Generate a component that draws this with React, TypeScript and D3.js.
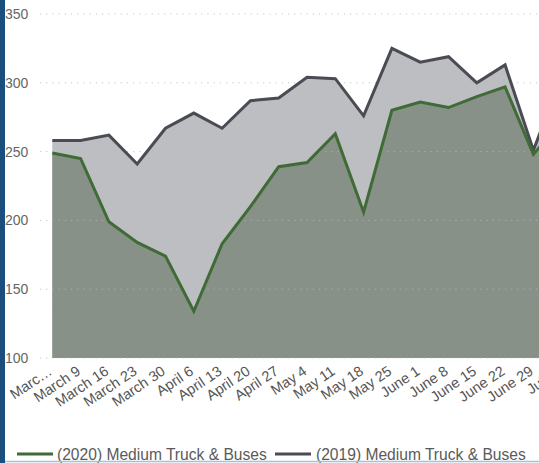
import React from "react";
import * as d3 from "d3";

const categories = [
  "March 2", "March 9", "March 16", "March 23", "March 30",
  "April 6", "April 13", "April 20", "April 27",
  "May 4", "May 11", "May 18", "May 25",
  "June 1", "June 8", "June 15", "June 22", "June 29", "July 6",
];
const tickLabels = [
  "Marc…", "March 9", "March 16", "March 23", "March 30",
  "April 6", "April 13", "April 20", "April 27",
  "May 4", "May 11", "May 18", "May 25",
  "June 1", "June 8", "June 15", "June 22", "June 29", "July 6",
];
const values2020 = [249, 245, 199, 184, 174, 134, 183, 210, 239, 242, 263, 206, 280, 286, 282, 290, 297, 248, 272];
const values2019 = [258, 258, 262, 241, 267, 278, 267, 287, 289, 304, 303, 276, 325, 315, 319, 300, 313, 251, 305];
const yTicks = [100, 150, 200, 250, 300, 350];
const seriesNames = ["(2020) Medium Truck & Buses", "(2019) Medium Truck & Buses"];

const W = 539;
const H = 463;
const FONT = "'Liberation Sans', Arial, sans-serif";

export default function App() {
  const x = d3.scalePoint<string>().domain(categories).range([52.3, 52.3 + 18 * 28.3]);
  const y = d3.scaleLinear().domain([100, 350]).range([358, 14]);

  const area = (vals: number[]) =>
    d3.area<number>()
      .x((_, i) => x(categories[i]) as number)
      .y0(y(100))
      .y1((d) => y(d))(vals) as string;
  const line = (vals: number[]) =>
    d3.line<number>()
      .x((_, i) => x(categories[i]) as number)
      .y((d) => y(d))(vals) as string;

  const green = "#3e6b36";
  const dark = "#4a4b53";

  return (
    <div style={{ position: "absolute", left: 0, top: 0, width: W, height: H, overflow: "hidden", background: "#fff" }}>
      <svg width={W} height={H} style={{ display: "block", fontFamily: FONT }}>
        <path d={area(values2019)} fill="#bdbec1" />
        <path d={area(values2020)} fill="#879188" />
        {yTicks.map((t) => (
          <g key={t}>
            <line x1={40} x2={W} y1={y(t)} y2={y(t)} stroke="#b8b8b8" strokeOpacity={0.8} strokeWidth={1} strokeDasharray="1.2,5" />
            <text x={5} y={y(t)} dy="0.36em" fontSize={14} fill="#666">{t}</text>
          </g>
        ))}
        <path d={line(values2019)} fill="none" stroke={dark} strokeWidth={3} strokeLinejoin="miter" />
        <path d={line(values2020)} fill="none" stroke={green} strokeWidth={3} strokeLinejoin="miter" />
        {categories.map((c, i) => (
          <text
            key={c}
            transform={`translate(${(x(c) as number) - 5},${365}) rotate(-34)`}
            textAnchor="end"
            dy="0.71em"
            fontSize={14.5}
            fill="#555"
          >
            {tickLabels[i]}
          </text>
        ))}
        <line x1={17} x2={53} y1={454} y2={454} stroke={green} strokeWidth={3} />
        <text x={57} y={459.5} fontSize={15.6} fill="#5a5a5a">{seriesNames[0]}</text>
        <line x1={275} x2={311} y1={454} y2={454} stroke={dark} strokeWidth={3} />
        <text x={316} y={459.5} fontSize={15.6} fill="#5a5a5a">{seriesNames[1]}</text>
        <rect x={0} y={0} width={5} height={H} fill="#1a4e7d" />
        <line x1={5} x2={W} y1={461.5} y2={461.5} stroke="#a9bfd2" strokeWidth={1.5} />
      </svg>
    </div>
  );
}
